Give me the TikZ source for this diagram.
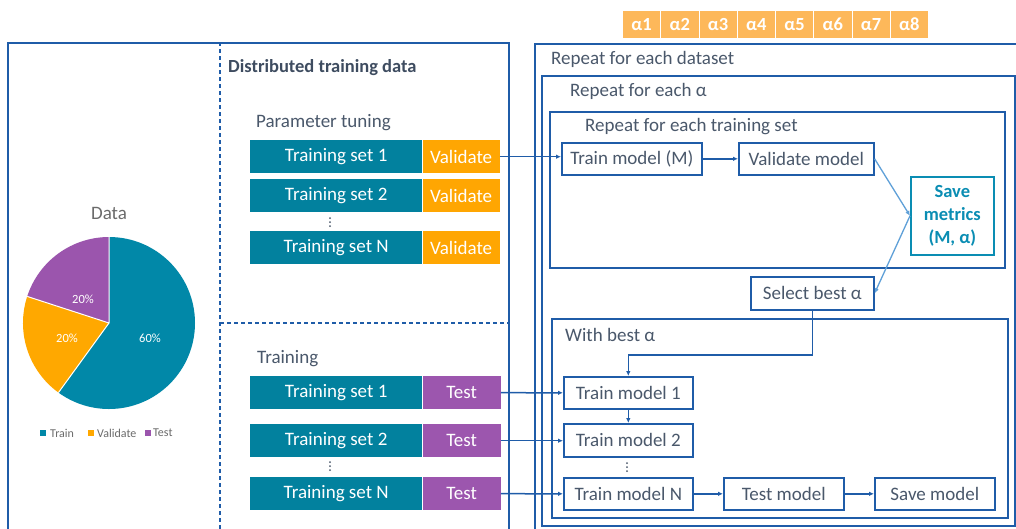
\documentclass[tikz,border=0pt]{standalone}
\usepackage{fontspec}
\setmainfont{Carlito}
\usetikzlibrary{arrows.meta}
\definecolor{bordblue}{HTML}{1F5CA8}
\definecolor{txtgrey}{HTML}{4A586B}
\definecolor{titlegrey}{HTML}{3E4C60}
\definecolor{teal}{HTML}{02819E}
\definecolor{orng}{HTML}{FFA602}
\definecolor{purp}{HTML}{9C56AE}
\definecolor{alphaor}{HTML}{FDB85A}
\definecolor{pieteal}{HTML}{0188A8}
\definecolor{pieor}{HTML}{FFA800}
\definecolor{piepurp}{HTML}{9B55AD}
\definecolor{savecol}{HTML}{0A8DB3}
\definecolor{lightarrow}{HTML}{5FA0D8}
\definecolor{chartgrey}{HTML}{6B6B6B}
\tikzset{
  >={Latex[length=5pt,width=4.5pt]},
  container/.style={draw=bordblue, line width=1.6pt, inner sep=0pt, anchor=north west},
  proc/.style={draw=bordblue, line width=1.6pt, fill=white, text=txtgrey, inner sep=0pt,
    anchor=north west, font=\fontsize{19}{21}\selectfont},
  savebox/.style={draw=savecol, line width=1.6pt, fill=white, text=savecol, inner sep=0pt,
    anchor=north west, align=center, font=\fontsize{18.5}{23}\selectfont\bfseries},
  lbl/.style={text=txtgrey, inner sep=0pt, anchor=west, font=\fontsize{19}{21}\selectfont},
  titlelbl/.style={text=titlegrey, inner sep=0pt, anchor=west, font=\fontsize{18.5}{21}\selectfont\bfseries},
  tset/.style={fill=teal, text=white, inner sep=0pt, anchor=north west, minimum width=172pt,
    minimum height=33pt, font=\fontsize{19}{21}\selectfont},
  valbox/.style={fill=orng, text=white, inner sep=0pt, anchor=north west, minimum width=77pt,
    minimum height=33pt, font=\fontsize{19}{21}\selectfont},
  testbox/.style={fill=purp, text=white, inner sep=0pt, anchor=north west, minimum width=78pt,
    minimum height=33pt, font=\fontsize{19}{21}\selectfont},
  alphabox/.style={fill=alphaor, draw=white, line width=1pt, text=white, inner sep=0pt,
    anchor=north west, minimum width=38.25pt, minimum height=28pt, font=\fontsize{18.5}{20}\selectfont\bfseries},
  conn/.style={draw=bordblue, line width=1.5pt, ->},
  lconn/.style={draw=lightarrow, line width=1.3pt, ->},
  dashline/.style={draw=bordblue, line width=1.4pt, dash pattern=on 4pt off 3pt},
  dotmark/.style={circle, fill=txtgrey, inner sep=0pt, minimum size=2pt},
  pielbl/.style={text=white, inner sep=0pt, font=\fontsize{12.5}{14}\selectfont},
  leglbl/.style={text=chartgrey, inner sep=0pt, anchor=west, font=\fontsize{12}{14}\selectfont},
}
\newcommand{\vdotsat}[3]{%
  \node[dotmark] (#1a) at (#2,#3-4) {};
  \node[dotmark] (#1b) at (#2,#3) {};
  \node[dotmark] (#1c) at (#2,#3+4) {};}
\begin{document}
\begin{tikzpicture}[x=1pt,y=-1pt]
\useasboundingbox (0,0) rectangle (1016,528);
\clip (0,0) rectangle (1016,528);
\fill[white] (0,0) rectangle (1016,528);

% ---------- left panel ----------
\node[container, minimum width=501pt, minimum height=520pt] (leftbox) at (7,42) {};
\coordinate (dtop) at (220,42);
\coordinate (dbot) at (220,540);
\coordinate (hleft) at (220,323);
\coordinate (hright) at (508,323);
\draw[dashline] (dtop) -- (dbot);
\draw[dashline] (hleft) -- (hright);

% pie chart
\node[text=chartgrey, inner sep=0pt, font=\fontsize{19}{20}\selectfont] (datatitle) at (109,213) {Data};
\begin{scope}[shift={(109,323)}, yscale=-1]
  \fill[pieteal] (0,0) -- (90:86) arc[start angle=90, end angle=-126, radius=86] -- cycle;
  \fill[pieor] (0,0) -- (234:86) arc[start angle=234, end angle=162, radius=86] -- cycle;
  \fill[piepurp] (0,0) -- (162:86) arc[start angle=162, end angle=90, radius=86] -- cycle;
  \draw[white, line width=1pt] (90:86) -- (0,0) -- (234:86) (0,0) -- (162:86);
\end{scope}
\node[pielbl] (p60) at (150,338) {60\%};
\node[pielbl] (p20a) at (67,338) {20\%};
\node[pielbl] (p20b) at (83,299) {20\%};
\fill[pieteal] (40,430) rectangle (46,436);
\node[leglbl] (legtrain) at (50,433) {Train};
\fill[pieor] (88,430) rectangle (94,436);
\node[leglbl] (legval) at (97,433) {Validate};
\fill[piepurp] (145,430) rectangle (151,436);
\node[leglbl] (legtest) at (153,433) {Test};

% middle section
\node[titlelbl] (disttitle) at (228,68) {Distributed training data};
\node[lbl] (ptune) at (256,123) {Parameter tuning};
\node[tset] (p1) at (250,140) {Training set 1};
\node[valbox] (v1) at (p1.north east) {Validate};
\node[tset] (p2) at (250,179) {Training set 2};
\node[valbox] (v2) at (p2.north east) {Validate};
\vdotsat{pd}{330}{222}
\node[tset] (pN) at (250,231) {Training set N};
\node[valbox] (vN) at (pN.north east) {Validate};

\node[lbl] (trlabel) at (257,359) {Training};
\node[tset] (t1) at (250,376) {Training set 1};
\node[testbox] (s1) at (t1.north east) {Test};
\node[tset] (t2) at (250,424) {Training set 2};
\node[testbox] (s2) at (t2.north east) {Test};
\vdotsat{td}{330}{466}
\node[tset] (tN) at (250,477) {Training set N};
\node[testbox] (sN) at (tN.north east) {Test};

% ---------- right panel ----------
\foreach \i in {1,...,8} {
  \node[alphabox] (a\i) at ({622+(\i-1)*38.25},10) {α\i};
}
\node[container, minimum width=500pt, minimum height=520pt] (dsbox) at (534,43) {};
\node[lbl] (dslabel) at (551,59) {Repeat for each dataset};
\node[container, minimum width=473pt, minimum height=450pt] (albox) at (541,75) {};
\node[lbl] (allabel) at (570,91) {Repeat for each α};
\node[container, minimum width=455pt, minimum height=156pt] (tsbox) at (549,111) {};
\node[lbl] (tslabel) at (585,127) {Repeat for each training set};

\node[proc, minimum width=140pt, minimum height=32pt] (tm) at (561,142) {Train model (M)};
\node[proc, minimum width=135pt, minimum height=32pt] (vm) at (738,142) {Validate model};
\node[savebox, minimum width=83pt, minimum height=78pt] (sm) at (910,176) {Save\\metrics\\(M, α)};
\node[proc, minimum width=123pt, minimum height=33pt] (sel) at (750,276) {Select best α};

\node[container, minimum width=456pt, minimum height=199pt] (wbbox) at (551,318) {};
\node[lbl] (wblabel) at (565,335) {With best α};
\node[proc, minimum width=129pt, minimum height=32pt] (tr1) at (563,376) {Train model 1};
\node[proc, minimum width=129pt, minimum height=33pt] (tr2) at (563,423) {Train model 2};
\vdotsat{rd}{627}{467}
\node[proc, minimum width=129pt, minimum height=32pt] (trN) at (563,477) {Train model N};
\node[proc, minimum width=120pt, minimum height=32pt] (testm) at (723,477) {Test model};
\node[proc, minimum width=120pt, minimum height=32pt] (savem) at (874,477) {Save model};

% ---------- connectors ----------
\draw[conn] (v1.east) -- (v1.east -| tm.west);
\draw[conn] (tm.east) -- (vm.west);
\draw[lconn] (vm.east) -- (sm.west);
\draw[lconn] (sm.west) -- (sel.east);
\draw[conn] (sel.south) -- (sel.south |- 0,355) -| (tr1.north);
\draw[conn] (tr1.south) -- (tr2.north);
\draw[conn] (s1.east) -- (tr1.west);
\draw[conn] (s2.east) -- (s2.east -| tr2.west);
\draw[conn] (sN.east) -- (trN.west);
\draw[conn] (trN.east) -- (testm.west);
\draw[conn] (testm.east) -- (savem.west);
\end{tikzpicture}
\end{document}
